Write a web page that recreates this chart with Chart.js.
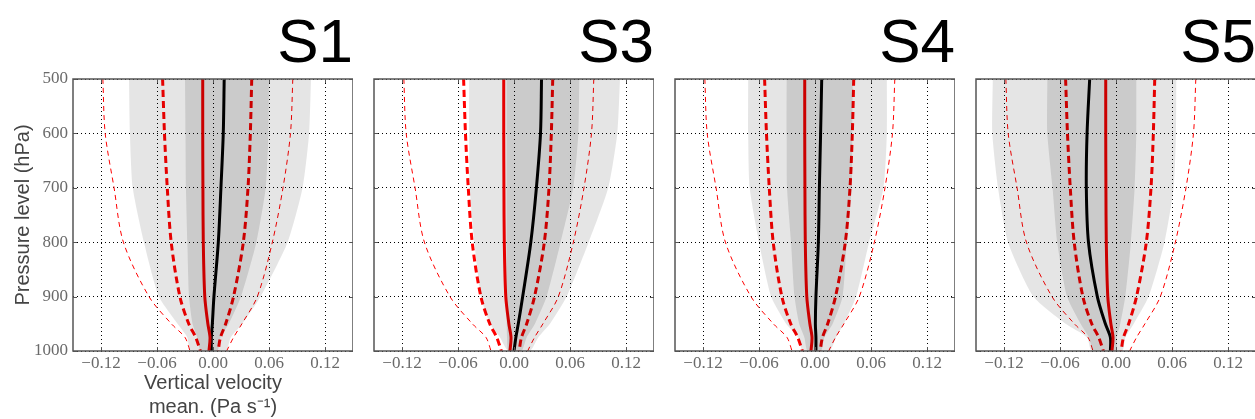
<!DOCTYPE html>
<html>
<head>
<meta charset="utf-8">
<script src="https://cdn.jsdelivr.net/npm/chart.js@4.4.0/dist/chart.umd.min.js"></script>
<style>
  html, body { margin: 0; padding: 0; background: #fff; overflow: hidden; }
  #wrap { position: relative; width: 1255px; height: 419px; overflow: hidden; }
  .panel { position: absolute; top: 0; }
  .tag {
    position: absolute; top: 10px; width: 200px; text-align: right;
    font-family: "Liberation Sans", Arial, sans-serif; font-size: 62px; line-height: 1; color: #000;
  }
</style>
</head>
<body>
<div id="wrap"></div>
<script>
// ===== Data =====
const levels = [500, 600, 700, 800, 900, 950, 975, 1000];
const xTicks = [-0.12, -0.06, 0, 0.06, 0.12];
const yTicks = [500, 600, 700, 800, 900, 1000];
const panelNames = ['S1', 'S3', 'S4', 'S5'];

// red reference profiles (same in every panel)
const refMean    = [-0.011, -0.011, -0.0108, -0.0104, -0.0088, -0.0055, -0.0032, -0.0043];
const refInnerLo = [-0.054, -0.052, -0.049, -0.0448, -0.0355, -0.026, -0.0185, -0.0135];
const refInnerHi = [0.0415, 0.040, 0.0375, 0.0325, 0.022, 0.0136, 0.008, 0.0055];
const refOuterLo = [-0.118, -0.1155, -0.106, -0.096, -0.0686, -0.0446, -0.030, -0.0246];
const refOuterHi = [0.0855, 0.083, 0.075, 0.0636, 0.0475, 0.031, 0.022, 0.0146];

// S1
const s1Mean    = [0.012, 0.011, 0.0085, 0.0057, 0.001, -0.0007, -0.0018, -0.0018];
const s1LightLo = [-0.090, -0.089, -0.086, -0.074, -0.058, -0.038, -0.0275, -0.024];
const s1LightHi = [0.105, 0.103, 0.096, 0.080, 0.051, 0.0314, 0.019, 0.0136];
const s1DarkLo  = [-0.030, -0.0295, -0.029, -0.0275, -0.0257, -0.022, -0.017, -0.013];
const s1DarkHi  = [0.060, 0.0594, 0.0565, 0.0465, 0.030, 0.017, 0.008, 0.0046];
// S3
const s3Mean    = [0.0295, 0.0284, 0.024, 0.018, 0.0093, 0.0046, 0.002, 0];
const s3LightLo = [-0.048, -0.048, -0.0474, -0.0425, -0.0354, -0.0257, -0.015, -0.006];
const s3LightHi = [0.1136, 0.1107, 0.101, 0.080, 0.0564, 0.0386, 0.026, 0.017];
const s3DarkLo  = [-0.008, -0.008, -0.008, -0.008, -0.008, -0.0078, -0.0075, -0.006];
const s3DarkHi  = [0.070, 0.069, 0.0635, 0.050, 0.035, 0.0225, 0.0136, 0.008];
// S4
const s4Mean    = [0.0072, 0.006, 0.0047, 0.0036, 0.001, 0.0004, 0.001, 0.001];
const s4LightLo = [-0.0716, -0.0716, -0.070, -0.060, -0.047, -0.031, -0.018, -0.013];
const s4LightHi = [0.077, 0.077, 0.0734, 0.058, 0.044, 0.031, 0.0225, 0.0154];
const s4DarkLo  = [-0.0304, -0.0304, -0.030, -0.0257, -0.022, -0.017, -0.0114, -0.008];
const s4DarkHi  = [0.0405, 0.040, 0.0394, 0.034, 0.0296, 0.019, 0.010, 0.0064];
// S5
const s5Mean    = [-0.0282, -0.031, -0.0318, -0.0295, -0.020, -0.0114, -0.006, -0.006];
const s5LightLo = [-0.132, -0.1325, -0.1264, -0.1157, -0.0885, -0.054, -0.031, -0.026];
const s5LightHi = [0.0646, 0.0643, 0.0618, 0.052, 0.035, 0.019, 0.010, 0.0064];
const s5DarkLo  = [-0.0736, -0.0736, -0.068, -0.063, -0.0525, -0.038, -0.029, -0.024];
const s5DarkHi  = [0.0218, 0.0218, 0.020, 0.016, 0.010, 0.0046, 0.001, 0.0004];

const panelData = [
  { mean: s1Mean, lightLo: s1LightLo, lightHi: s1LightHi, darkLo: s1DarkLo, darkHi: s1DarkHi },
  { mean: s3Mean, lightLo: s3LightLo, lightHi: s3LightHi, darkLo: s3DarkLo, darkHi: s3DarkHi },
  { mean: s4Mean, lightLo: s4LightLo, lightHi: s4LightHi, darkLo: s4DarkLo, darkHi: s4DarkHi },
  { mean: s5Mean, lightLo: s5LightLo, lightHi: s5LightHi, darkLo: s5DarkLo, darkHi: s5DarkHi }
];

// ===== Layout =====
const plotLefts = [73, 374, 675, 976];
const PLOT_W = 280;
const AXIS_W = 73;
const TOP = 79;
const XAXIS_H = 68;
const TICK_FONT = { family: '"Liberation Serif", "DejaVu Serif", serif', size: 17 };

const toPoints = (xs) => xs.map((x, i) => ({ x: x, y: levels[i] }));
const toBand = (lo, hi) => toPoints(lo).concat(toPoints(hi).reverse());
const fmtTick = (v) => (v < -1e-9 ? '\u2212' : '') + Math.abs(v).toFixed(2);

// frame + inward tick marks like matplotlib
const framePlugin = {
  id: 'frame',
  afterDraw(chart) {
    const { ctx, chartArea: a, scales } = chart;
    ctx.save();
    ctx.strokeStyle = '#555';
    ctx.lineWidth = 1;
    ctx.beginPath();
    xTicks.forEach(v => {
      const px = Math.round(scales.x.getPixelForValue(v)) + 0.5;
      ctx.moveTo(px, a.bottom); ctx.lineTo(px, a.bottom - 4);
      ctx.moveTo(px, a.top); ctx.lineTo(px, a.top + 4);
    });
    yTicks.forEach(v => {
      const py = Math.round(scales.y.getPixelForValue(v)) + 0.5;
      ctx.moveTo(a.left, py); ctx.lineTo(a.left + 4, py);
      ctx.moveTo(a.right, py); ctx.lineTo(a.right - 4, py);
    });
    ctx.stroke();
    ctx.lineWidth = 1.5;
    ctx.strokeRect(a.left, a.top, a.right - a.left, a.bottom - a.top);
    ctx.restore();
  }
};

const wrap = document.getElementById('wrap');

panelData.forEach((p, i) => {
  const first = i === 0;
  const canvas = document.createElement('canvas');
  canvas.className = 'panel';
  canvas.width = AXIS_W + PLOT_W;
  canvas.height = 419;
  canvas.style.left = (plotLefts[i] - AXIS_W) + 'px';
  canvas.style.width = canvas.width + 'px';
  canvas.style.height = '419px';
  wrap.appendChild(canvas);

  const tag = document.createElement('div');
  tag.className = 'tag';
  tag.textContent = panelNames[i];
  tag.style.left = (plotLefts[i] + PLOT_W - 200) + 'px';
  wrap.appendChild(tag);

  const lineDefaults = { pointRadius: 0, tension: 0.3, fill: false, showLine: true };

  new Chart(canvas.getContext('2d'), {
    type: 'scatter',
    data: {
      datasets: [
        { ...lineDefaults, data: toBand(p.lightLo, p.lightHi), fill: 'shape', borderWidth: 0,
          backgroundColor: 'rgba(0,0,0,0.10)', tension: 0.2 },
        { ...lineDefaults, data: toBand(p.darkLo, p.darkHi), fill: 'shape', borderWidth: 0,
          backgroundColor: 'rgba(0,0,0,0.113)', tension: 0.2 },
        { ...lineDefaults, data: toPoints(refOuterLo), borderColor: '#ff0000', borderWidth: 1, borderDash: [5, 4] },
        { ...lineDefaults, data: toPoints(refOuterHi), borderColor: '#ff0000', borderWidth: 1, borderDash: [5, 4] },
        { ...lineDefaults, data: toPoints(refInnerLo), borderColor: '#ff0000', borderWidth: 3, borderDash: [7, 4] },
        { ...lineDefaults, data: toPoints(refInnerHi), borderColor: '#ff0000', borderWidth: 3, borderDash: [7, 4] },
        { ...lineDefaults, data: toPoints(refMean), borderColor: '#ff0000', borderWidth: 3 },
        { ...lineDefaults, data: toPoints(p.mean), borderColor: '#000000', borderWidth: 3 }
      ]
    },
    options: {
      responsive: false,
      devicePixelRatio: 1,
      animation: false,
      events: [],
      layout: { padding: { top: TOP, right: 0, bottom: 0, left: 0 } },
      plugins: {
        legend: { display: false },
        tooltip: { enabled: false }
      },
      scales: {
        x: {
          type: 'linear',
          min: -0.15,
          max: 0.15,
          afterBuildTicks: (scale) => { scale.ticks = xTicks.map(v => ({ value: v })); },
          afterFit: (scale) => { scale.height = XAXIS_H; },
          grid: { color: '#000', lineWidth: 1, drawTicks: false },
          border: { display: false, dash: [1, 3] },
          ticks: {
            padding: 2,
            autoSkip: false,
            maxRotation: 0,
            color: '#6a6a6a',
            font: TICK_FONT,
            callback: (v) => fmtTick(v)
          },
          title: {
            display: first,
            text: ['Vertical velocity', 'mean. (Pa s\u207B\u00B9)'],
            color: '#444',
            padding: { top: 0, bottom: 0 },
            font: { family: '"Liberation Sans", Arial, sans-serif', size: 20, lineHeight: '24px' }
          }
        },
        y: {
          type: 'linear',
          reverse: true,
          min: 500,
          max: 1000,
          afterBuildTicks: (scale) => { scale.ticks = yTicks.map(v => ({ value: v })); },
          afterFit: (scale) => { scale.width = AXIS_W; },
          grid: { color: '#000', lineWidth: 1, drawTicks: false },
          border: { display: false, dash: [1, 3] },
          ticks: {
            display: first,
            padding: 5,
            color: '#6a6a6a',
            font: TICK_FONT,
            callback: (v) => String(v)
          },
          title: {
            display: first,
            text: 'Pressure level (hPa)',
            color: '#444',
            padding: { top: 11, bottom: 0 },
            font: { family: '"Liberation Sans", Arial, sans-serif', size: 20 }
          }
        }
      }
    },
    plugins: [framePlugin]
  });
});
</script>
</body>
</html>
